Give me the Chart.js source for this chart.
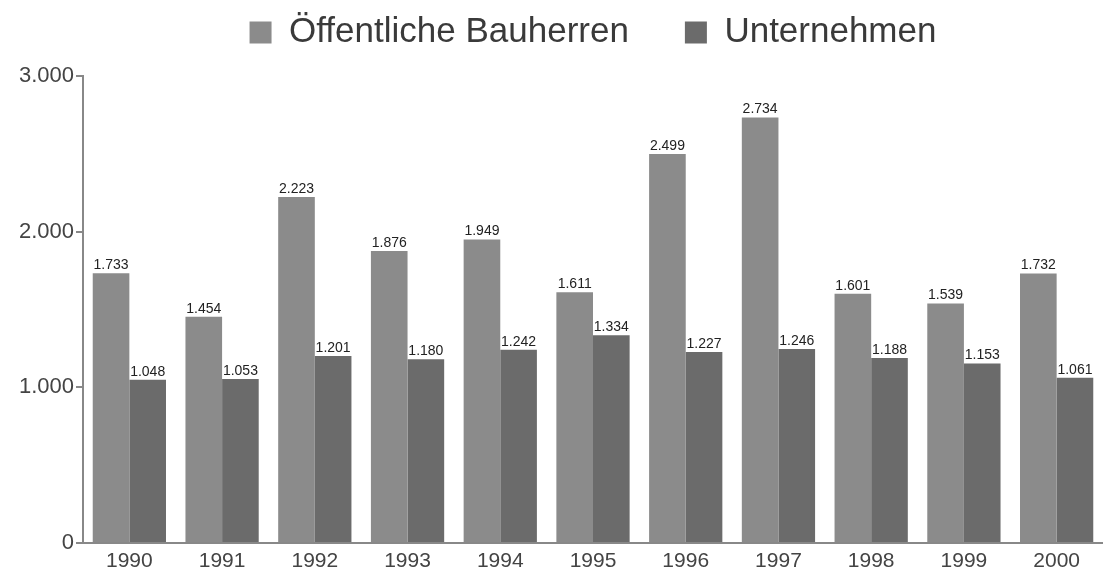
<!DOCTYPE html>
<html>
<head>
<meta charset="utf-8">
<script src="https://cdn.jsdelivr.net/npm/chart.js@4"></script>
<style>
  html, body { margin: 0; padding: 0; background: #fff; }
  #wrap { width: 1103px; height: 572px; }
</style>
</head>
<body>
<div id="wrap"><canvas id="chart"></canvas></div>
<script>
const years = ["1990", "1991", "1992", "1993", "1994", "1995", "1996", "1997", "1998", "1999", "2000"];
const oeffentlich = [1733, 1454, 2223, 1876, 1949, 1611, 2499, 2734, 1601, 1539, 1732];
const unternehmen = [1048, 1053, 1201, 1180, 1242, 1334, 1227, 1246, 1188, 1153, 1061];
const yTicks = [0, 1000, 2000, 3000];

const fmt = v => v.toLocaleString("de-DE");

// draws the value above each bar
const valueLabels = {
  id: "valueLabels",
  afterDatasetsDraw(chart) {
    const ctx = chart.ctx;
    ctx.save();
    ctx.font = "14px 'Liberation Sans Narrow', 'Liberation Sans', Arial";
    ctx.fillStyle = "#222";
    ctx.textAlign = "center";
    ctx.textBaseline = "bottom";
    chart.data.datasets.forEach((ds, i) => {
      chart.getDatasetMeta(i).data.forEach((bar, j) => {
        ctx.fillText(fmt(ds.data[j]), bar.x, bar.y - 1);
      });
    });
    ctx.restore();
  }
};

// legend: wide gap between items, but not that much height
const legendHeight = {
  id: "legendHeight",
  beforeInit(chart) {
    const fit = chart.legend.fit;
    chart.legend.fit = function () {
      fit.call(this);
      this.height = 117;
    };
  }
};

new Chart(document.getElementById("chart"), {
  type: "bar",
  data: {
    labels: years,
    datasets: [
      { label: "Öffentliche Bauherren", data: oeffentlich, backgroundColor: "#8b8b8b" },
      { label: "Unternehmen", data: unternehmen, backgroundColor: "#6b6b6b" }
    ]
  },
  options: {
    responsive: true,
    maintainAspectRatio: false,
    animation: false,
    layout: { padding: { top: -41, right: -6, left: 0, bottom: 0 } },
    datasets: { bar: { categoryPercentage: 0.79, barPercentage: 1.0 } },
    plugins: {
      tooltip: { enabled: false },
      legend: {
        display: true,
        fullSize: false,
        labels: {
          font: { family: "'Liberation Sans', Arial", size: 35 },
          color: "#3a3a3a",
          boxWidth: 22,
          boxHeight: 22,
          padding: 56
        }
      }
    },
    scales: {
      x: {
        grid: { display: false },
        border: { color: "#888", width: 2 },
        ticks: {
          font: { family: "'Liberation Sans', Arial", size: 21, lineHeight: 1 },
          color: "#444",
          padding: 0
        }
      },
      y: {
        min: 0,
        max: 3000,
        afterBuildTicks: axis => { axis.ticks = yTicks.map(v => ({ value: v })); },
        afterFit: axis => { axis.width = 83; },
        grid: { drawOnChartArea: false, drawTicks: true, tickLength: 7, color: "#888", lineWidth: 2 },
        border: { color: "#888", width: 2 },
        ticks: {
          font: { family: "'Liberation Sans', Arial", size: 22 },
          color: "#444",
          padding: 2,
          callback: v => fmt(v)
        }
      }
    }
  },
  plugins: [valueLabels, legendHeight]
});
</script>
</body>
</html>
